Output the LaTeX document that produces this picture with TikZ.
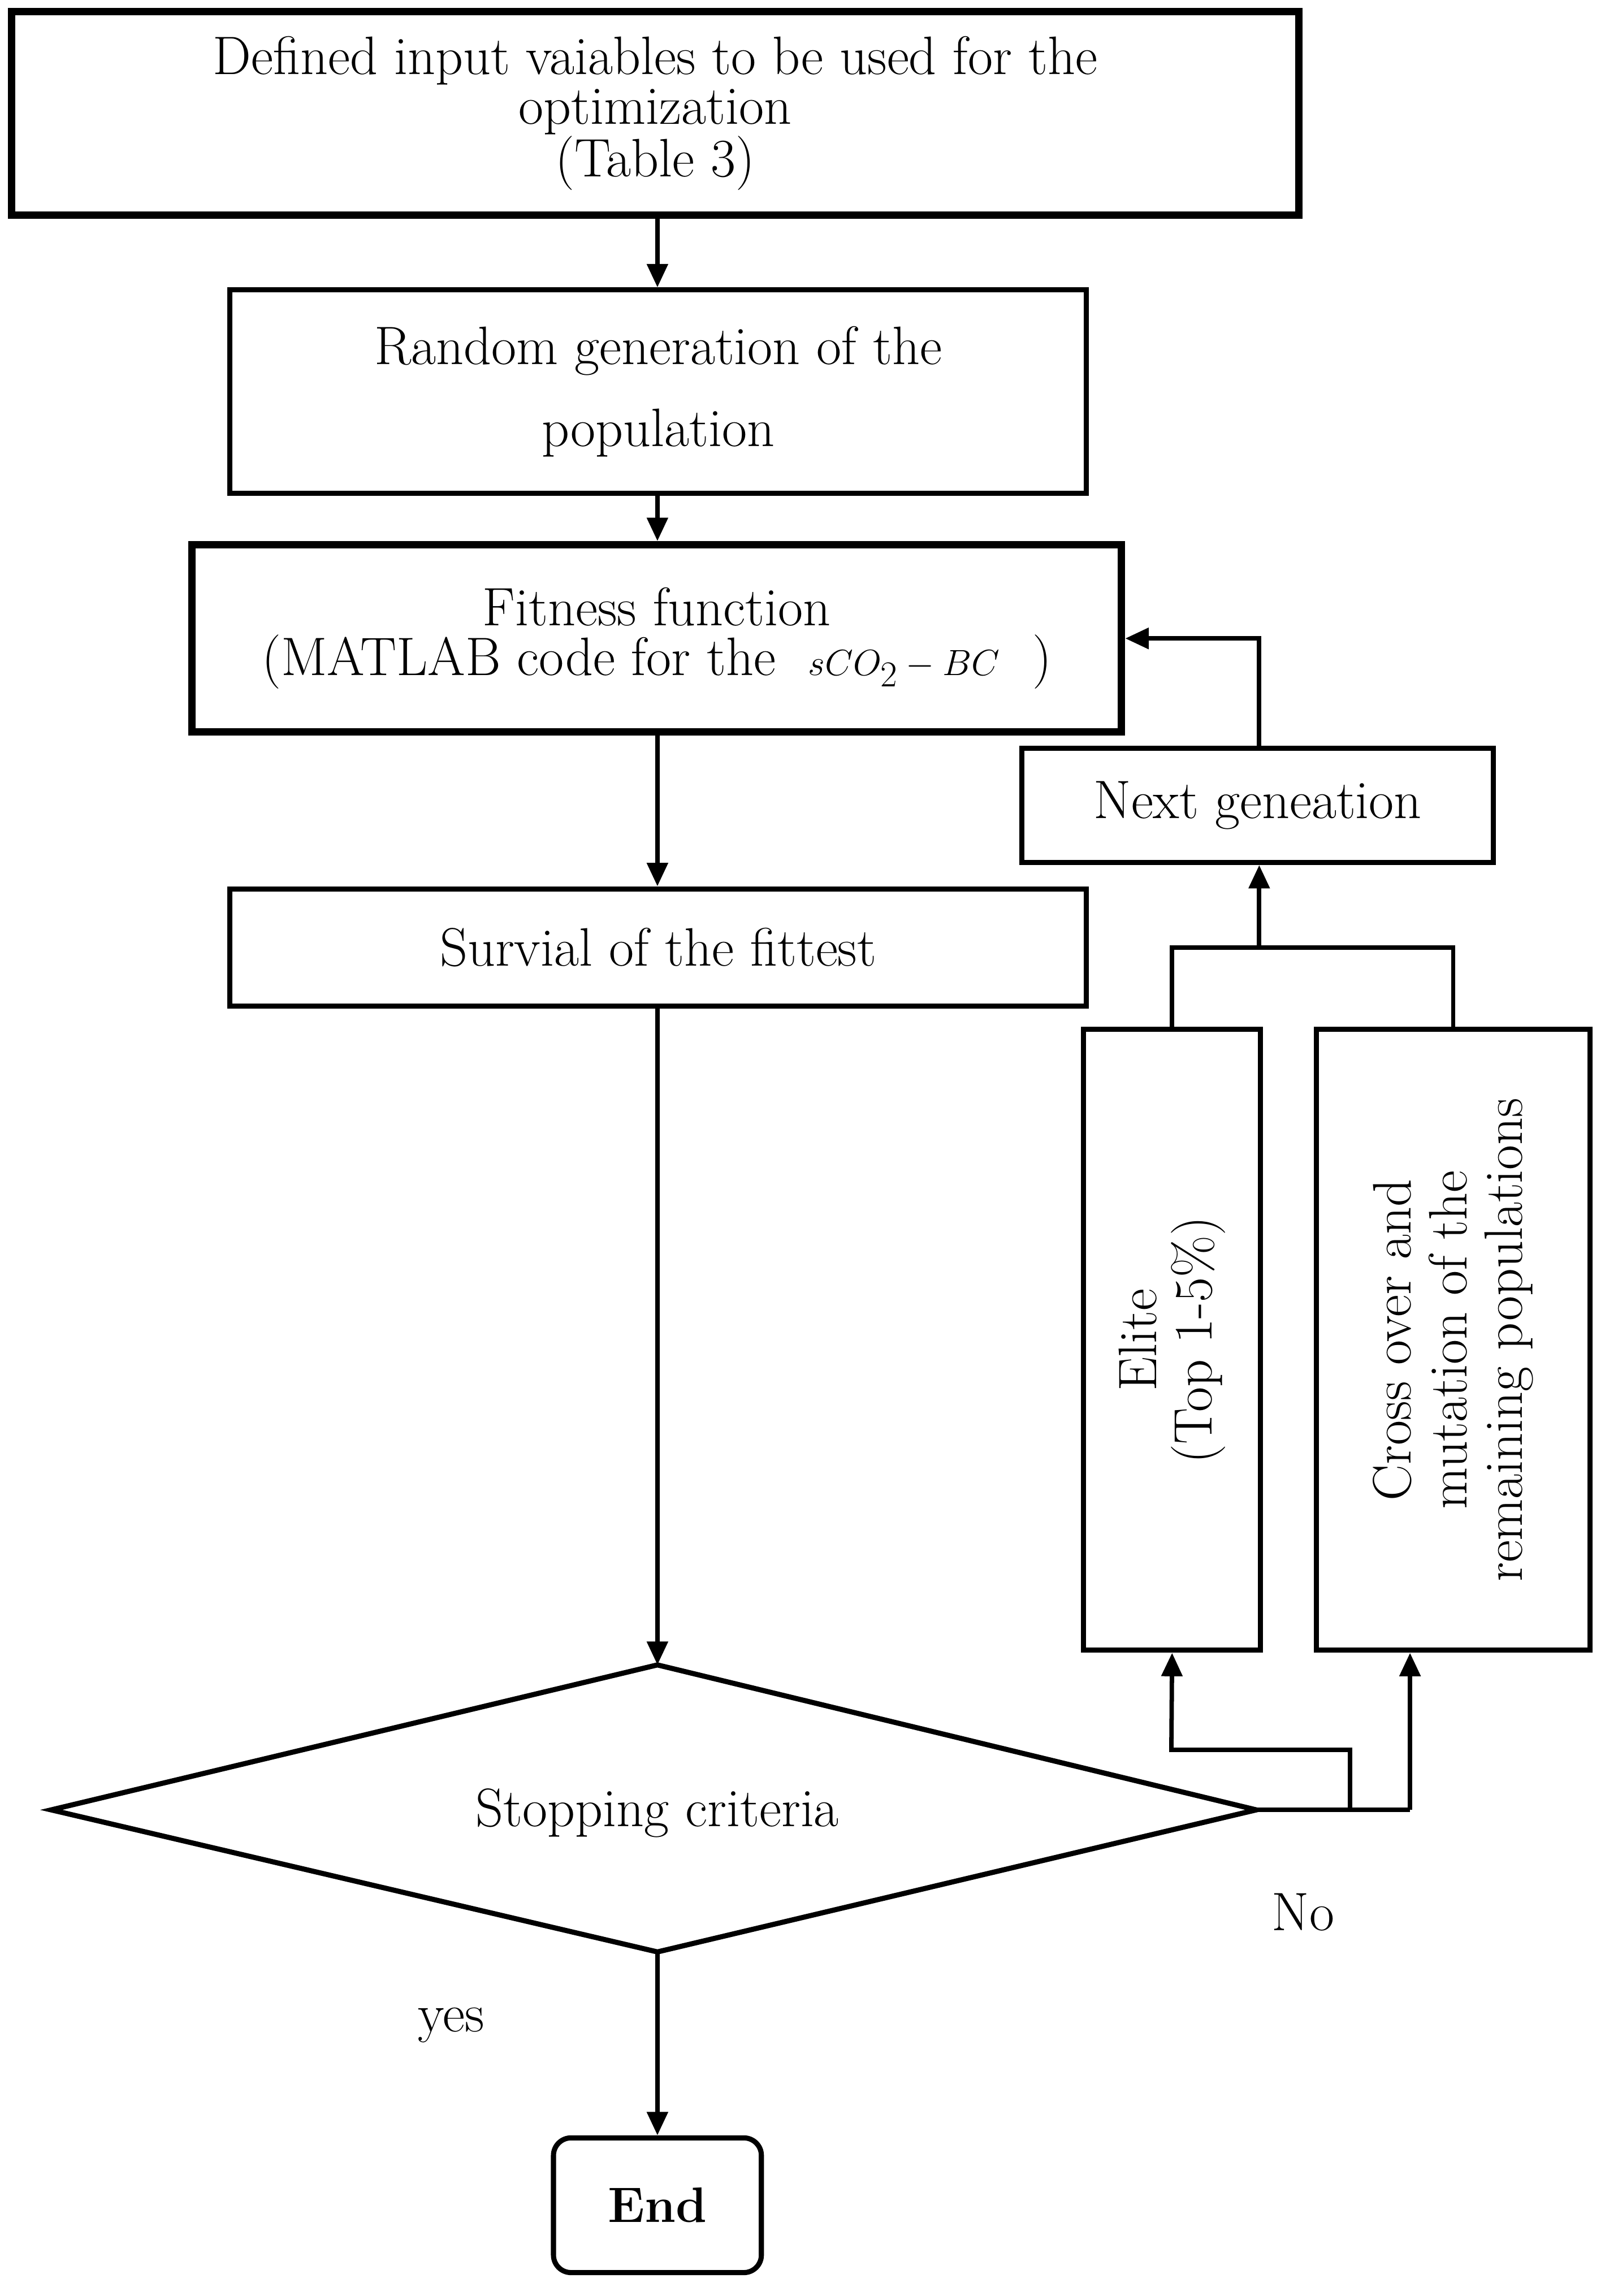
\documentclass[tikz,border=0pt]{standalone}
\usetikzlibrary{arrows.meta}
\begin{document}
\begin{tikzpicture}[x=1pt,y=-1pt,
  box/.style={draw,line width=3.5pt,inner sep=0pt,align=center,font=\fontsize{37}{34}\selectfont},
  arr/.style={line width=3pt,-{Triangle[length=16pt,width=14pt]}},
  ln/.style={line width=3pt},
  lab/.style={font=\fontsize{37}{38}\selectfont}]
\useasboundingbox (0,0) rectangle (1096,1568);
\node[box,line width=5pt,minimum width=879pt,minimum height=139pt] (b1) at (447.5,77.5) {Defined input vaiables to be used for the\\optimization\\(Table 3)};
\node[box,minimum width=585pt,minimum height=139pt] (b2) at (449.5,267.5) {Random generation of the\\[22pt]population};
\node[box,line width=5pt,minimum width=635pt,minimum height=128pt] (b3) at (448.5,436) {Fitness function\\(MATLAB code for the \ $sCO_2-BC$ \ )};
\node[box,minimum width=322pt,minimum height=78pt] (ng) at (859,550) {Next geneation};
\node[box,minimum width=585pt,minimum height=80pt] (sv) at (449.5,647) {Survial of the fittest};
\node[box,minimum width=121pt,minimum height=424pt] (el) at (800.5,915) {};
\node[rotate=90,align=center,lab] at (el) {Elite\\(Top 1-5\%)};
\node[box,minimum width=187pt,minimum height=424pt] (co) at (992.5,915) {};
\node[rotate=90,align=center,lab] at (co) {Cross over and\\mutation of the\\remaining populations};
\coordinate (dl) at (35,1236); \coordinate (dt) at (449,1137);
\coordinate (dr) at (858,1236); \coordinate (db) at (449,1333);
\draw[line width=3.5pt] (dl)--(dt)--(dr)--(db)--cycle;
\node[lab] (dc) at (449,1238) {Stopping criteria};
\node[box,rounded corners=12pt,minimum width=142pt,minimum height=92pt,font=\bfseries\fontsize{34}{34}\selectfont] (end) at (449,1506) {End};
\node[lab] (no) at (890,1306) {No};
\node[lab] (yes) at (308,1383) {yes};
\draw[arr] (b1.south -| 449,0) -- (b2.north -| 449,0);
\draw[arr] (b2.south -| 449,0) -- (b3.north -| 449,0);
\draw[arr] (b3.south -| 449,0) -- (sv.north -| 449,0);
\draw[arr] (sv.south -| 449,0) -- (dt);
\draw[arr] (db) -- (end.north);
\draw[arr] (ng.north -| 860,0) |- (b3.east);
\coordinate (j) at (860,647);
\draw[ln] (el.north) |- (co.north |- j) -- (co.north);
\draw[arr] (j) -- (ng.south -| 860,0);
\coordinate (k) at (922,1236);
\draw[ln] (dr) -- (963,1236);
\draw[arr] (963,1236) -- (co.south -| 963,0);
\draw[arr] (k) |- (800,1195) -- (el.south);
\end{tikzpicture}
\end{document}
